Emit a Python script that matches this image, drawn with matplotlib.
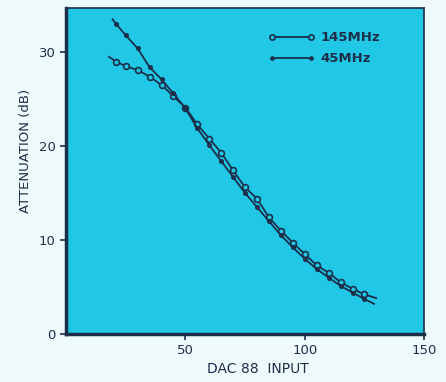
import matplotlib
matplotlib.use('agg')
import matplotlib.pyplot as plt

# DAC input values where the markers sit
dac_marks = [21, 25, 30, 35, 40, 45, 50, 55, 60, 65, 70, 75, 80, 85,
             90, 95, 100, 105, 110, 115, 120, 125]

# 145 MHz curve (line runs a little past the first and last marker)
x_145 = [18] + dac_marks + [130]
att_145 = [29.5, 29.0, 28.5, 28.1, 27.4, 26.5, 25.3, 24.1, 22.3, 20.8, 19.3,
           17.4, 15.6, 14.4, 12.4, 11.0, 9.7, 8.5, 7.3, 6.5, 5.5, 4.8, 4.2, 3.8]

# 45 MHz curve
x_45 = [19.5] + dac_marks + [129]
att_45 = [33.5, 33.0, 31.8, 30.4, 28.4, 27.1, 25.6, 24.0, 21.9, 20.1, 18.4,
          16.7, 15.0, 13.5, 12.0, 10.5, 9.2, 8.0, 6.9, 6.0, 5.1, 4.4, 3.7, 3.2]

ink = '#1b2f4a'
face = '#20c8e6'
bg = '#eefafc'

fig = plt.figure(figsize=(4.46, 3.82), dpi=100, facecolor=bg)
ax = fig.add_axes([0.148, 0.126, 0.803, 0.853], facecolor=face)

ax.plot(x_145, att_145, color=ink, lw=1.3, marker='o', ms=4.2,
        mfc=face, mec=ink, mew=1.2, markevery=slice(1, len(x_145) - 1),
        label='145MHz')
ax.plot(x_45, att_45, color=ink, lw=1.3, marker='o', ms=2.6,
        mfc=ink, mec=ink, markevery=slice(1, len(x_45) - 1),
        label='45MHz')

ax.set_xlim(0, 150)
ax.set_ylim(0, 34.7)
ax.set_xticks([50, 100, 150])
ax.set_yticks([0, 10, 20, 30])
ax.tick_params(colors=ink, labelsize=9.5, length=4, width=1.2, direction='out')

for side in ['left', 'bottom']:
    ax.spines[side].set_linewidth(2.5)
for side in ['top', 'right']:
    ax.spines[side].set_linewidth(1.2)
for sp in ax.spines.values():
    sp.set_color(ink)

ax.set_ylabel('ATTENUATION (dB)', color=ink, fontsize=9.5)
ax.yaxis.set_label_coords(-0.095, 0.56)
ax.set_xlabel('DAC 88  INPUT', color=ink, fontsize=10)
ax.xaxis.set_label_coords(0.535, -0.085)

leg = ax.legend(loc='upper left', bbox_to_anchor=(0.53, 0.965), frameon=False,
                fontsize=9.5, handlelength=3.6, labelspacing=0.6,
                handletextpad=0.4, numpoints=2, markerscale=0.9)
for t in leg.get_texts():
    t.set_color(ink)
    t.set_fontweight('bold')

plt.savefig('out.png', dpi=100, facecolor=bg)
plt.close()
